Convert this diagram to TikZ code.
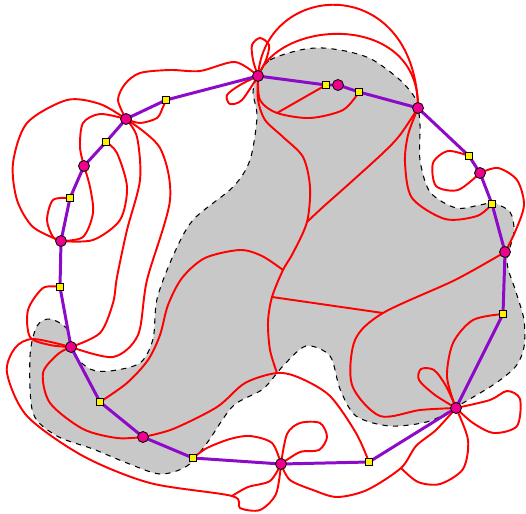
\documentclass[tikz,border=0pt]{standalone}
\usepackage{xcolor}
\usepackage{tikz}
\definecolor{edgeviolet}{RGB}{140,10,200}

\begin{document}
\begin{tikzpicture}[x=0.02cm,y=-0.02cm,
  curve/.style={red,line width=1.1pt},
  edge/.style={edgeviolet,line width=1.7pt},
  dot/.style={circle,draw=black,fill=magenta,line width=0.45pt,inner sep=0pt,minimum size=0.22cm},
  sq/.style={rectangle,draw=black,fill=yellow,line width=0.45pt,inner sep=0pt,minimum size=0.15cm}]
\useasboundingbox (0,0) rectangle (526,513);
\coordinate (v1) at (258,76);
\coordinate (v2) at (338,85);
\coordinate (v3) at (418,108);
\coordinate (v4) at (480,173);
\coordinate (v5) at (505,252);
\coordinate (v6) at (456,408);
\coordinate (v7) at (281,464);
\coordinate (v8) at (143,437);
\coordinate (v9) at (71,347);
\coordinate (v10) at (61,241);
\coordinate (v11) at (84,166);
\coordinate (v12) at (126,119);
\coordinate (s1) at (166,100);
\coordinate (s2) at (326,85);
\coordinate (s3) at (359,92);
\coordinate (s4) at (469,156);
\coordinate (s5) at (492,204);
\coordinate (s6) at (503,314);
\coordinate (s7) at (369,462);
\coordinate (s8) at (193,458);
\coordinate (s9) at (100,402);
\coordinate (s10) at (60,287);
\coordinate (s11) at (70,198);
\coordinate (s12) at (106,142);
\coordinate (j1) at (277,113);
\coordinate (j2) at (307,222);
\coordinate (j3) at (277,373);
\coordinate (j4) at (283,270);
\coordinate (j5) at (272,297);
\coordinate (j6) at (383,313);
\coordinate (j7) at (232,496);

\filldraw[fill=gray!43,draw=black,dashed,line width=0.6pt] plot[smooth cycle] coordinates {
  (257,77) (270,60) (300,50) (323,48) (350,52) (373,60) (400,80) (416,100)
  (420,125) (420,160) (430,192) (456,208) (480,205) (493,203) (510,212) (514,232)
  (507,262) (516,292) (524,320) (524,347) (516,366) (496,383) (463,403) (430,421)
  (390,426) (356,416) (340,389) (330,356) (306,346) (283,366) (263,389) (233,406)
  (207,443) (187,466) (160,474) (127,463) (93,449) (57,436) (33,413) (30,356)
  (37,326) (50,319) (67,329) (73,353) (90,369) (110,371) (140,363) (153,339)
  (157,299) (173,256) (193,220) (233,187) (250,160) (257,117) (253,93)};

\draw[curve] plot[smooth] coordinates {(v1) (253,60) (252,45) (260,38) (269,45) (266,60) (v1)};
\draw[curve] plot[smooth] coordinates {(v1) (240,85) (227,95) (230,104) (242,100) (v1)};
\draw[curve] plot[smooth] coordinates {(v12) (118,100) (125,84) (140,73) (170,70) (200,71) (235,62) (v1)};
\draw[curve] (v1) .. controls (265,-20) and (415,-28) .. (v3);
\draw[curve] (v1) .. controls (280,18) and (420,12) .. (v3);
\draw[curve] plot[smooth] coordinates {(v1) (260,100) (j1) (310,118) (343,110) (s3)};
\draw[curve] (s2) -- (j1);
\draw[curve] plot[smooth] coordinates {(v1) (258,100) (265,120) (283,137) (303,157) (310,187) (j2) (293,253) (j4) (j5) (268,322) (270,350) (j3)};
\draw[curve] plot[smooth] coordinates {(v3) (400,135) (383,153) (350,183) (323,207) (j2)};
\draw[curve] plot[smooth] coordinates {(v3) (408,135) (405,163) (412,198) (445,219) (477,216) (s5)};
\draw[curve] plot[smooth] coordinates {(s4) (448,151) (433,163) (436,186) (458,190) (v4)};
\draw[curve] plot[smooth] coordinates {(v4) (498,168) (517,180) (524,205) (515,232) (v5)};
\draw[curve] plot[smooth] coordinates {(v5) (455,280) (j6) (355,340) (352,385) (380,416) (420,410) (v6)};
\draw[curve] (j5) -- (j6);
\draw[curve] plot[smooth] coordinates {(j4) (262,256) (240,250) (205,258) (182,278) (168,305) (160,335) (148,360) (127,383) (s9)};
\draw[curve] plot[smooth] coordinates {(v8) (173,429) (217,407) (245,383) (j3) (300,378) (330,396) (356,433) (s7)};
\draw[curve] plot[smooth] coordinates {(v6) (435,395) (419,380) (421,369) (434,370) (446,386) (v6)};
\draw[curve] plot[smooth] coordinates {(v6) (447,377) (453,343) (473,320) (s6)};
\draw[curve] plot[smooth] coordinates {(v6) (490,400) (507,391) (520,399) (517,426) (494,433) (473,423) (v6)};
\draw[curve] plot[smooth] coordinates {(v7) (290,480) (313,490) (337,497) (367,490) (401,468) (416,446) (436,430) (v6)};
\draw[curve] plot[smooth] coordinates {(v6) (468,440) (463,469) (440,484) (418,482) (401,468)};
\draw[curve] plot[smooth] coordinates {(v7) (287,434) (300,423) (320,423) (327,437) (319,450) (300,452) (v7)};
\draw[curve] plot[smooth] coordinates {(v9) (33,339) (15,348) (7,373) (27,416) (83,456) (150,483) (j7) (240,508) (260,510) (276,494) (v7)};
\draw[curve] plot[smooth] coordinates {(v7) (270,481) (248,487) (j7)};
\draw[curve] plot[smooth] coordinates {(s8) (207,448) (230,439) (250,436) (272,443) (v7)};
\draw[curve] plot[smooth] coordinates {(v8) (117,438) (83,429) (50,403) (43,373) (58,354) (v9)};
\draw[curve] plot[smooth] coordinates {(s10) (43,288) (28,310) (30,337) (50,345) (v9)};
\draw[curve] plot[smooth] coordinates {(v9) (113,357) (138,335) (147,280) (170,200) (160,148) (v12)};
\draw[curve] plot[smooth] coordinates {(v9) (100,333) (113,303) (117,277) (127,230) (140,180) (137,137) (v12)};
\draw[curve] plot[smooth] coordinates {(v10) (33,227) (17,200) (13,163) (27,123) (67,100) (100,104) (v12)};
\draw[curve] plot[smooth] coordinates {(s11) (53,200) (47,220) (53,237) (v10)};
\draw[curve] plot[smooth] coordinates {(v10) (83,237) (93,213) (90,187) (v11)};
\draw[curve] plot[smooth] coordinates {(v10) (93,240) (120,220) (127,187) (117,153) (s12)};
\draw[curve] plot[smooth] coordinates {(v11) (80,147) (83,123) (100,114) (v12)};
\draw[curve] plot[smooth] coordinates {(v12) (140,123) (157,118) (163,107) (s1)};

\draw[edge,line join=round] (v1) -- (s2) -- (v2) -- (s3) -- (v3) -- (s4) -- (v4) -- (s5) -- (v5) -- (s6)
  -- (v6) -- (s7) -- (v7) -- (s8) -- (v8) -- (s9) -- (v9) -- (s10) -- (v10) -- (s11)
  -- (v11) -- (s12) -- (v12) -- (s1) -- cycle;

\foreach \i in {1,...,12} {
  \node[sq] (box\i) at (s\i) {};
  \node[dot] (dot\i) at (v\i) {};
}
\end{tikzpicture}
\end{document}
